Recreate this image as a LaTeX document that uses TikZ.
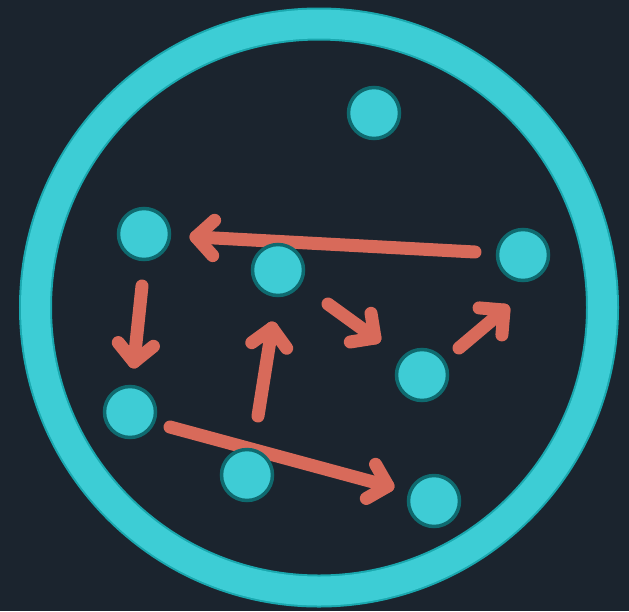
\documentclass[tikz,border=0pt]{standalone}
\usetikzlibrary{calc}
\definecolor{bg}{HTML}{1B242E}
\definecolor{ringfill}{HTML}{3DCDD5}
\definecolor{ringedge}{HTML}{1AA8AF}
\definecolor{dotfill}{HTML}{3ECCD5}
\definecolor{dotedge}{HTML}{0F6A6F}
\definecolor{arrowc}{HTML}{D86A5A}
\tikzset{
  dot/.style={circle, minimum size=51pt, inner sep=0pt, fill=dotfill, draw=dotedge, line width=3.5pt},
  arrowline/.style={draw=arrowc, line width=13pt, line cap=round, line join=round},
}
\newcommand{\chevarrow}[2]{%
  \draw[arrowline] (#1) -- (#2);
  \draw[arrowline] ($(#2)!25pt!45:(#1)$) -- (#2) -- ($(#2)!25pt!-45:(#1)$);
}
\begin{document}
\begin{tikzpicture}[x=1pt,y=-1pt]
  \fill[bg] (0,0) rectangle (629,611);
  \useasboundingbox (0,0) rectangle (629,611);
  % ring
  \coordinate (c) at (319,307.5);
  \draw[ringedge, line width=33pt] (c) circle (283.5);
  \draw[ringfill, line width=29pt] (c) circle (283.5);
  % arrow end points
  \coordinate (a1s) at (475,252);  \coordinate (a1t) at (196,237);
  \coordinate (a2s) at (142,286);  \coordinate (a2t) at (134,362);
  \coordinate (a3s) at (258,416);  \coordinate (a3t) at (272,328);
  \coordinate (a4s) at (328,304);  \coordinate (a4t) at (375,338);
  \coordinate (a5s) at (459,348);  \coordinate (a5t) at (504,310);
  \coordinate (a6s) at (170,427);  \coordinate (a6t) at (388,486);
  \chevarrow{a1s}{a1t}
  \chevarrow{a2s}{a2t}
  \chevarrow{a3s}{a3t}
  \chevarrow{a4s}{a4t}
  \chevarrow{a5s}{a5t}
  \chevarrow{a6s}{a6t}
  % dots
  \node[dot] (n1) at (374,113) {};
  \node[dot] (n2) at (144,234) {};
  \node[dot] (n3) at (278,270) {};
  \node[dot] (n4) at (523,255) {};
  \node[dot] (n5) at (422,375) {};
  \node[dot] (n6) at (130,412) {};
  \node[dot] (n7) at (247,475) {};
  \node[dot] (n8) at (434,501) {};
\end{tikzpicture}
\end{document}
